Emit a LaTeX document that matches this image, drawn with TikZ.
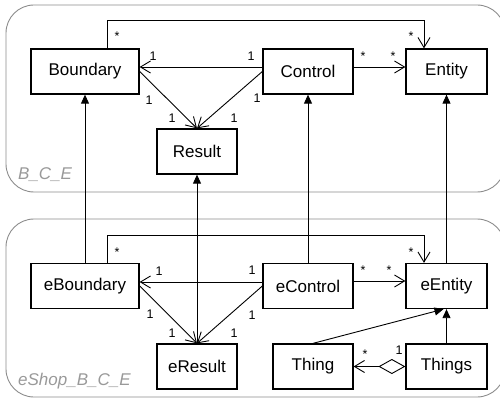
\documentclass[tikz,border=0pt]{standalone}
\usepackage{fontspec}
\setmainfont{Liberation Sans}
\usetikzlibrary{arrows.meta, positioning}
\tikzset{
  clsBox/.style={rectangle, draw=black, line width=1.3pt, fill=white, minimum height=45pt, inner sep=2pt, font=\fontsize{17}{20}\selectfont},
  pkgFrame/.style={draw=gray!90, line width=0.9pt, rounded corners=28pt},
  pkgName/.style={anchor=west, inner sep=0pt, text=gray!80, font=\fontsize{17}{20}\selectfont\itshape},
  multLbl/.style={inner sep=0pt, font=\fontsize{12.5}{15}\selectfont},
  assocArr/.style={line width=0.9pt, -{Straight Barb[length=10pt, width=12pt]}},
  genArr/.style={line width=0.9pt, -{Triangle[length=9pt, width=8pt]}},
  aggArr/.style={line width=0.9pt, {Diamond[open, length=27pt, width=15pt]}-{Straight Barb[length=10pt, width=12pt]}},
}
\begin{document}
\begin{tikzpicture}[x=1pt, y=-1pt]
\useasboundingbox (0,0) rectangle (500,398);
% packages
\draw[pkgFrame] (6,5) rectangle (505,192);
\draw[pkgFrame] (6,219) rectangle (505,397);
\node[pkgName] (pkgTop) at (18,175) {B\_C\_E};
\node[pkgName] (pkgBot) at (18,381) {eShop\_B\_C\_E};

% classes of B_C_E
\node[clsBox, minimum width=108pt] (bnd) at (85,71.5) {Boundary};
\node[clsBox, minimum width=90pt] (ctl) at (308,71.5) {Control};
\node[clsBox, minimum width=81pt] (ent) at (446.5,71.5) {Entity};
\node[clsBox, minimum width=80pt] (res) at (197,151.5) {Result};

% classes of eShop_B_C_E
\node[clsBox, minimum width=108pt] (eBnd) at (85,286) {eBoundary};
\node[clsBox, minimum width=90pt] (eCtl) at (308,286) {eControl};
\node[clsBox, minimum width=81pt] (eEnt) at (446.5,286) {eEntity};
\node[clsBox, minimum width=80pt] (eRes) at (197,366.5) {eResult};
\node[clsBox, minimum width=80pt] (thing) at (313,366.5) {Thing};
\node[clsBox, minimum width=81pt] (things) at (446.5,366.5) {Things};

% associations
\draw[assocArr] ([xshift=22pt]bnd.north) -- ++(0,-28) -| ([xshift=-22.5pt]ent.north);
\draw[assocArr] ([yshift=4.5pt]ctl.west) -- ([yshift=4.5pt]bnd.east);
\draw[assocArr] ([yshift=4.5pt]ctl.east) -- ([yshift=4.5pt]ent.west);
\draw[assocArr] (bnd.east) -- (res.north);
\draw[assocArr] (ctl.west) -- (res.north);

\draw[assocArr] ([xshift=22pt]eBnd.north) -- ++(0,-27) -| ([xshift=-22.5pt]eEnt.north);
\draw[assocArr] ([yshift=4pt]eCtl.west) -- ([yshift=4pt]eBnd.east);
\draw[assocArr] ([yshift=5pt]eCtl.east) -- ([yshift=5pt]eEnt.west);
\draw[assocArr] (eBnd.east) -- (eRes.north);
\draw[assocArr] (eCtl.west) -- (eRes.north);
\draw[aggArr] (things.west) -- (thing.east);

% generalizations
\draw[genArr] (eBnd.north) -- (bnd.south);
\draw[genArr] (eRes.north) -- (res.south);
\draw[genArr] (eCtl.north) -- (ctl.south);
\draw[genArr] (eEnt.north) -- (ent.south);
\draw[genArr] (thing.north) -- ([xshift=-3pt]eEnt.south);
\draw[genArr] (things.north) -- (eEnt.south);

% multiplicities
\foreach \px/\py/\txt [count=\i] in {117/36/*, 411/36/*, 153/56/1, 251/56/1,
    149/100/1, 172/118/1, 234/118/1, 257/98/1, 363/56.5/*, 393/56.5/*,
    117/252/*, 411/252/*, 159/271/1, 252/270/1, 150/314/1, 172/333/1,
    234/333/1, 252/315/1, 363/270.5/*, 389/270.5/*, 365/354.5/*, 399/350/1}
  \node[multLbl] (mult\i) at (\px,\py) {\txt};
\end{tikzpicture}
\end{document}
